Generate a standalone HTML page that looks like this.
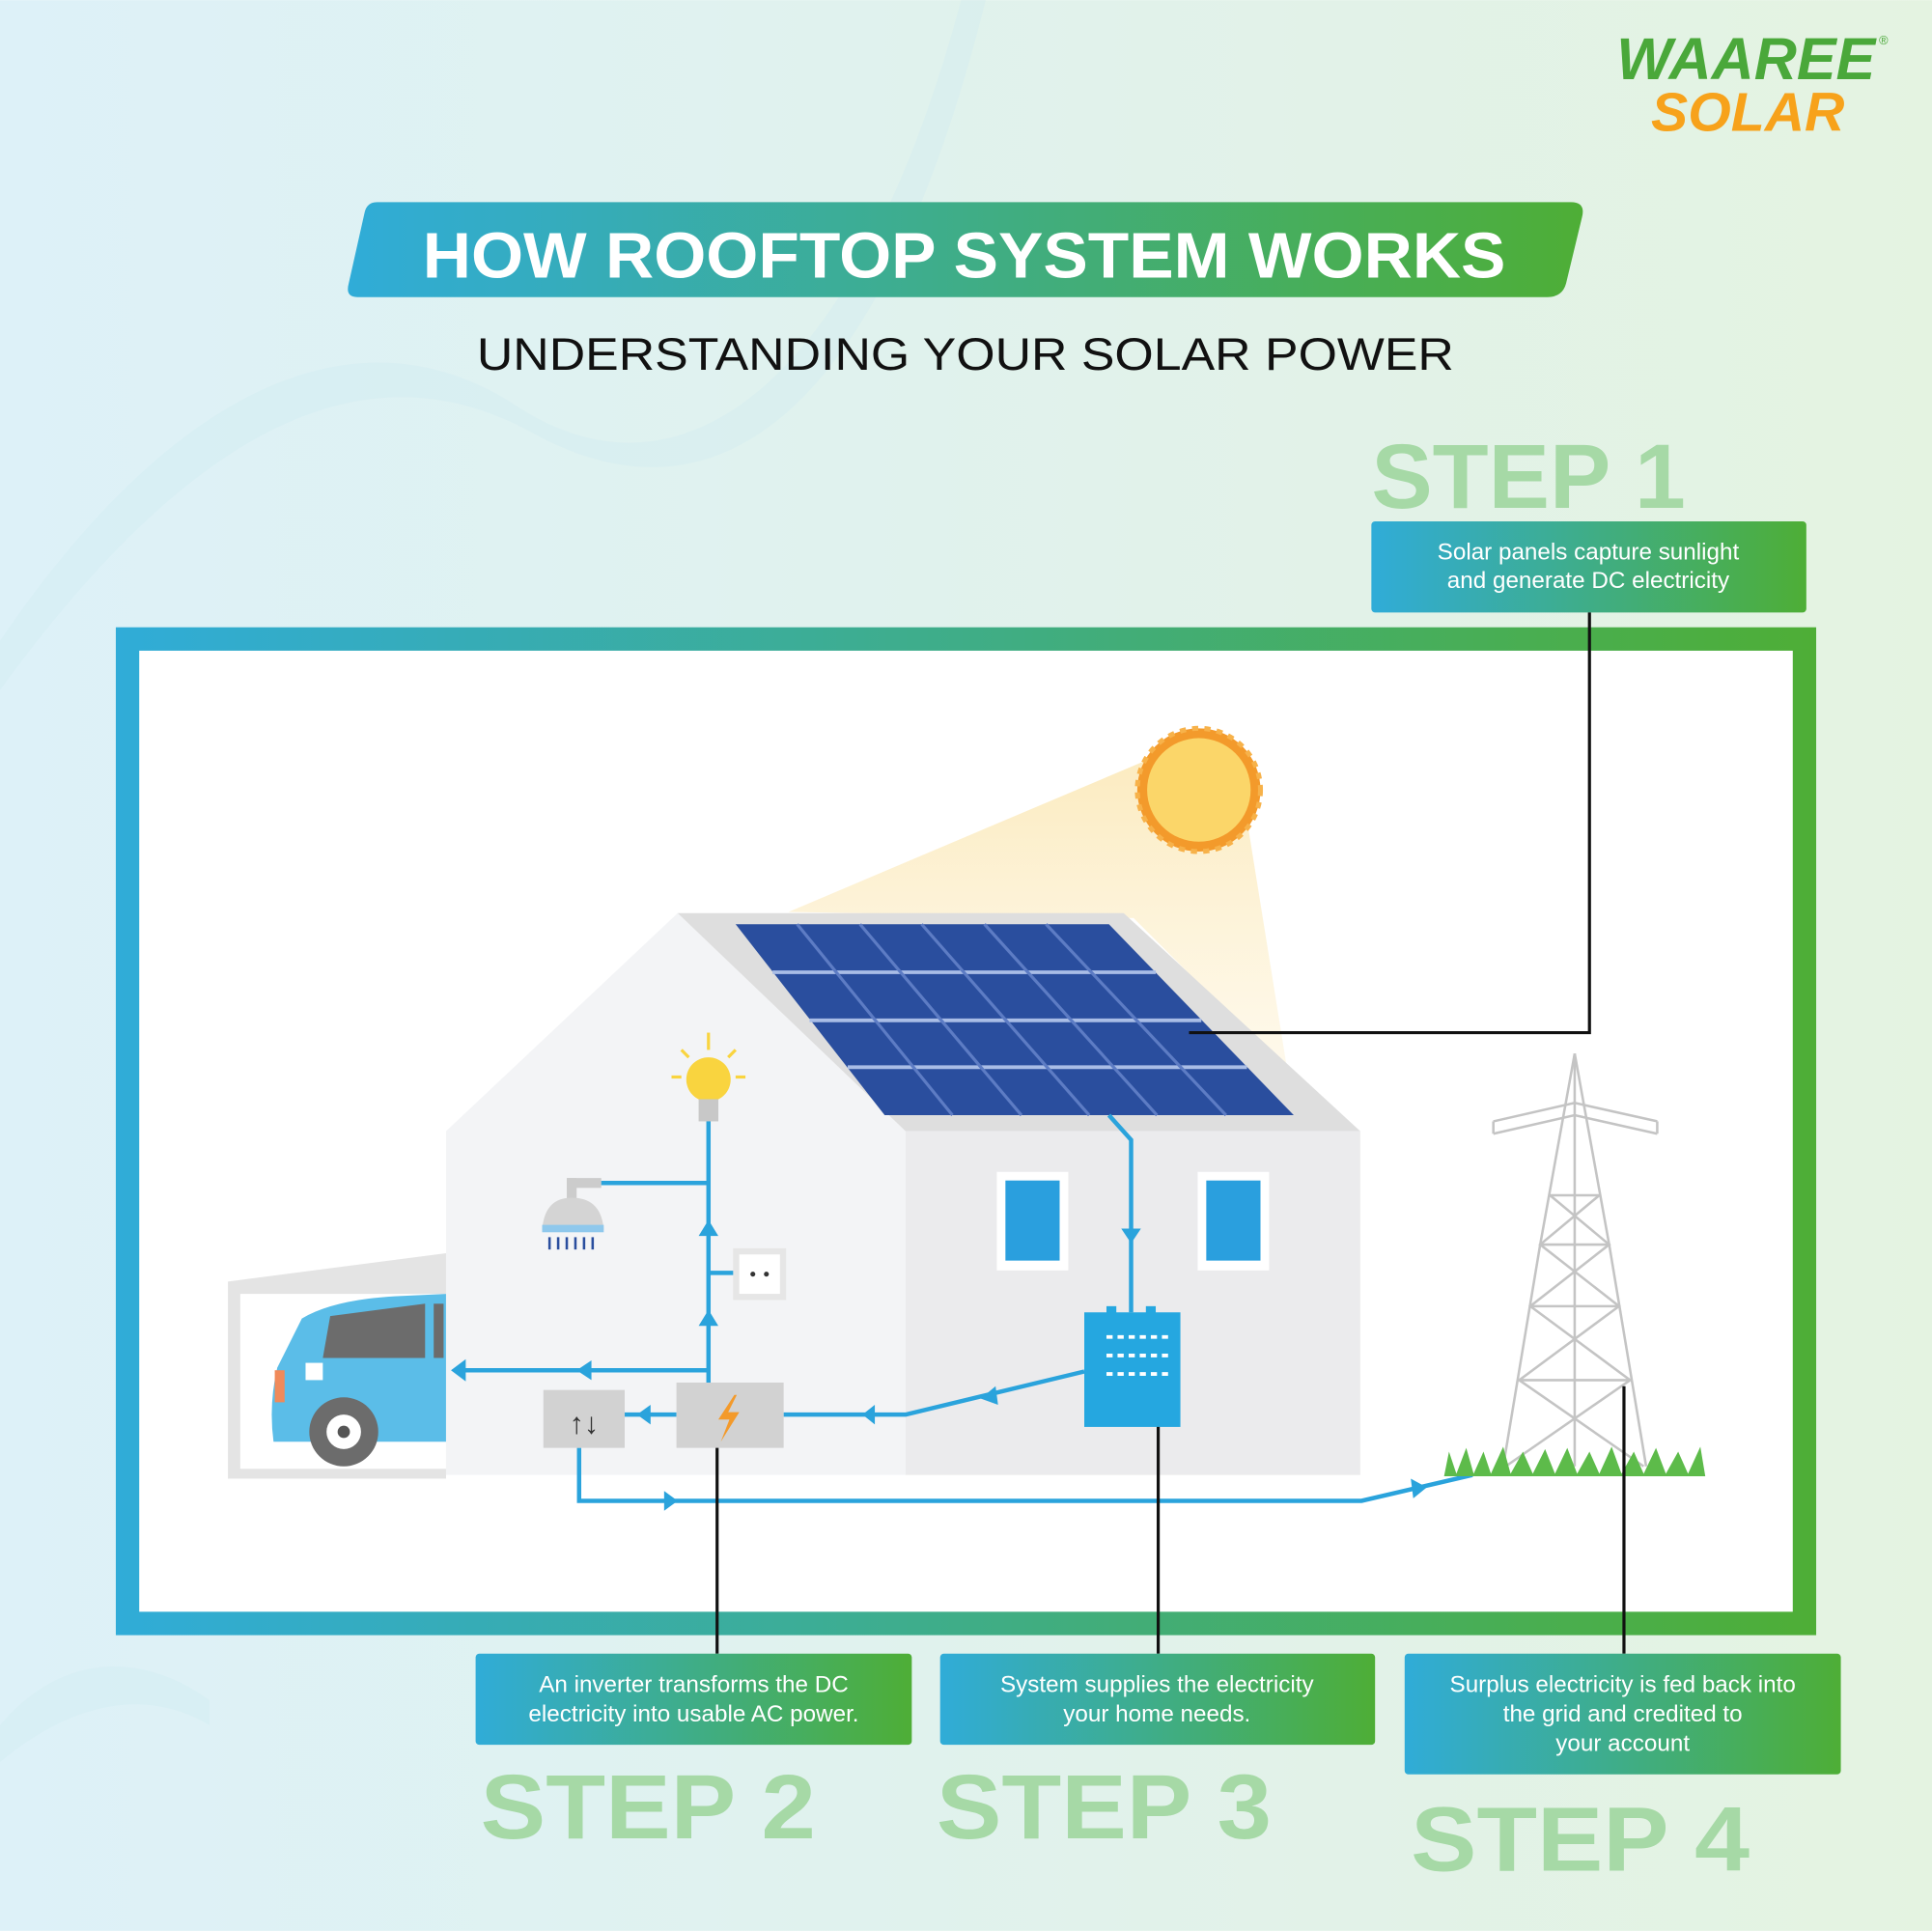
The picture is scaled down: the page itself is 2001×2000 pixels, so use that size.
<!DOCTYPE html>
<html><head><meta charset="utf-8"><style>
html,body{margin:0;padding:0;width:2001px;height:2000px;overflow:hidden}
svg{display:block}
text{font-family:"Liberation Sans",sans-serif}
</style></head><body>
<svg width="2001" height="2000" viewBox="0 0 1568 1567" xmlns="http://www.w3.org/2000/svg">
<defs>
<linearGradient id="bg" x1="0" y1="0" x2="1" y2="0"><stop offset="0" stop-color="#ddf1f8"/><stop offset="1" stop-color="#e4f3e1"/></linearGradient>
<linearGradient id="g" x1="0" y1="0" x2="1" y2="0"><stop offset="0" stop-color="#30acd8"/><stop offset="1" stop-color="#4eae36"/></linearGradient>
<linearGradient id="beam" x1="0" y1="0" x2="0" y2="1"><stop offset="0" stop-color="#fbe6b0" stop-opacity=".8"/><stop offset="1" stop-color="#fdf3d8" stop-opacity=".5"/></linearGradient>
</defs>
<rect width="1568" height="1567" fill="url(#bg)"/>
<path d="M0 520 C150 300 300 250 420 330 C560 420 700 300 780 0 L800 0 C720 320 590 440 430 350 C300 280 160 340 0 560 Z" fill="#cfeaf0" opacity=".35"/>
<path d="M0 1400 C60 1330 130 1350 170 1380 L170 1400 C120 1370 60 1380 0 1430Z" fill="#cfeaf0" opacity=".35"/>
<!-- logo -->
<text x="1312" y="64" font-size="48" font-weight="bold" font-style="italic" fill="#4aa83a" textLength="210" lengthAdjust="spacingAndGlyphs">WAAREE</text>
<text x="1525" y="36" font-size="10" fill="#4aa83a">®</text>
<text x="1340" y="106" font-size="44" font-weight="bold" font-style="italic" fill="#f7a21b" textLength="157" lengthAdjust="spacingAndGlyphs">SOLAR</text>
<!-- title -->
<path d="M300 164 H1275 Q1287 164 1284 176 L1271 230 Q1268 241 1256 241 H290 Q280 241 283 230 L296 172 Q298 164 306 164Z" fill="url(#g)"/>
<text x="343" y="225" font-size="52" font-weight="bold" fill="#fff" textLength="879" lengthAdjust="spacingAndGlyphs">HOW ROOFTOP SYSTEM WORKS</text>
<text x="387" y="300" font-size="37" fill="#111" textLength="793" lengthAdjust="spacingAndGlyphs">UNDERSTANDING YOUR SOLAR POWER</text>
<!-- step 1 -->
<text x="1113" y="412" font-size="74" font-weight="bold" fill="#a6d9a6" textLength="255" lengthAdjust="spacingAndGlyphs">STEP 1</text>
<rect x="1113" y="423" width="353" height="74" rx="3" fill="url(#g)"/>
<text x="1289" y="454" font-size="19" fill="#fff" text-anchor="middle">Solar panels capture sunlight</text>
<text x="1289" y="477" font-size="19" fill="#fff" text-anchor="middle">and generate DC electricity</text>
<!-- frame -->
<rect x="94" y="509" width="1380" height="818" fill="url(#g)"/>
<rect x="113" y="528" width="1342" height="780" fill="#fff"/>
<!-- beam -->
<polygon points="935,615 640,740 920,745 1045,870 1012,665" fill="url(#beam)"/>
<!-- sun -->
<circle cx="973" cy="641" r="50" fill="#f39a2b" stroke="#f7b24a" stroke-width="4" stroke-dasharray="5 5"/>
<circle cx="973" cy="641" r="42" fill="#fbd669"/>
<!-- garage -->
<polygon points="185,1040 362,1017 362,1200 185,1200" fill="#e4e4e4"/>
<rect x="195" y="1050" width="167" height="142" fill="#fff"/>
<path d="M362 1050 L320 1052 Q270 1055 245 1070 L225 1110 Q218 1140 222 1170 L362 1170Z" fill="#5bbde8"/>
<path d="M268 1068 L345 1058 L345 1102 L262 1102Z" fill="#6c6c6c"/>
<rect x="352" y="1058" width="8" height="44" fill="#6c6c6c"/>
<rect x="248" y="1106" width="14" height="14" fill="#fff"/>
<rect x="223" y="1112" width="8" height="26" fill="#f08a5a"/>
<circle cx="279" cy="1162" r="28" fill="#6c6c6c"/><circle cx="279" cy="1162" r="14" fill="#fff"/><circle cx="279" cy="1162" r="5" fill="#555"/>
<!-- house -->
<polygon points="362,918 550,741 735,918 735,1197 362,1197" fill="#f3f4f6"/>
<polygon points="550,741 912,741 1104,918 735,918" fill="#dedede"/>
<rect x="735" y="918" width="369" height="279" fill="#ebebed"/>
<!-- panels -->
<polygon points="597,750 900,750 1050,905 718,905" fill="#2a4e9e"/>
<g stroke="#a9bde6" stroke-width="3">
<line x1="627" y1="789" x2="938" y2="789"/><line x1="657" y1="828" x2="975" y2="828"/><line x1="688" y1="866" x2="1012" y2="866"/>
</g>
<g stroke="#5d7cc4" stroke-width="2.5">
<line x1="647" y1="750" x2="773" y2="905"/><line x1="698" y1="750" x2="829" y2="905"/><line x1="748" y1="750" x2="884" y2="905"/><line x1="799" y1="750" x2="939" y2="905"/><line x1="849" y1="750" x2="995" y2="905"/>
</g>
<!-- windows -->
<rect x="809" y="951" width="58" height="80" fill="#fff"/><rect x="816" y="958" width="44" height="65" fill="#2a9fde"/>
<rect x="972" y="951" width="58" height="80" fill="#fff"/><rect x="979" y="958" width="44" height="65" fill="#2a9fde"/>
<!-- wires -->
<g stroke="#2aa3dc" stroke-width="3.5" fill="none">
<polyline points="900,905 918,925 918,1065"/>
<polyline points="880,1113 735,1148 636,1148"/>
<line x1="575" y1="1122" x2="575" y2="905"/>
<line x1="575" y1="960" x2="487" y2="960"/>
<line x1="575" y1="1033" x2="597" y2="1033"/>
<line x1="575" y1="1112" x2="370" y2="1112"/>
<line x1="549" y1="1148" x2="507" y2="1148"/>
<polyline points="470,1175 470,1218 1105,1218 1195,1197"/>
</g>
<g fill="#2aa3dc">
<polygon points="910,997 926,997 918,1009"/>
<polygon points="808,1125 796,1135 810,1140"/>
<polygon points="700,1148 710,1140 710,1156"/>
<polygon points="575,990 567,1003 583,1003"/>
<polygon points="575,1063 567,1076 583,1076"/>
<polygon points="468,1112 480,1104 480,1120"/>
<polygon points="366,1112 378,1103 378,1121"/>
<polygon points="517,1148 528,1140 528,1156"/>
<polygon points="550,1218 539,1210 539,1226"/>
<polygon points="1158,1207 1145,1200 1147,1216"/>
</g>
<!-- bulb, shower, socket -->
<circle cx="575" cy="876" r="18" fill="#f9d43f"/><rect x="567" y="892" width="16" height="18" fill="#c8c8c8"/>
<g stroke="#f9d43f" stroke-width="2.5"><line x1="575" y1="838" x2="575" y2="852"/><line x1="545" y1="874" x2="553" y2="874"/><line x1="597" y1="874" x2="605" y2="874"/><line x1="553" y1="852" x2="559" y2="858"/><line x1="597" y1="852" x2="591" y2="858"/></g>
<rect x="460" y="956" width="28" height="8" fill="#ccc"/><rect x="460" y="956" width="8" height="20" fill="#ccc"/>
<path d="M440 998 Q442 972 464 972 Q488 972 490 998Z" fill="#d4d4d4"/><rect x="440" y="994" width="50" height="6" fill="#8fc8ec"/>
<g stroke="#2a4e9e" stroke-width="2"><line x1="446" y1="1004" x2="446" y2="1014"/><line x1="453" y1="1004" x2="453" y2="1014"/><line x1="460" y1="1004" x2="460" y2="1014"/><line x1="467" y1="1004" x2="467" y2="1014"/><line x1="474" y1="1004" x2="474" y2="1014"/><line x1="481" y1="1004" x2="481" y2="1014"/></g>
<rect x="595" y="1013" width="43" height="42" fill="#e6e6e6"/><rect x="600" y="1018" width="33" height="32" fill="#fff"/>
<circle cx="611" cy="1034" r="2" fill="#333"/><circle cx="622" cy="1034" r="2" fill="#333"/>
<!-- meter & inverter -->
<rect x="441" y="1128" width="66" height="47" fill="#d2d2d2"/>
<text x="474" y="1163" font-size="24" font-weight="bold" fill="#333" text-anchor="middle">↑↓</text>
<rect x="549" y="1122" width="87" height="53" fill="#d2d2d2"/>
<polygon points="596,1132 583,1152 592,1152 585,1170 600,1146 591,1146 598,1132" fill="#f39a2b"/>
<!-- inverter box -->
<rect x="880" y="1065" width="78" height="93" fill="#25a7e0"/>
<rect x="898" y="1060" width="8" height="6" fill="#25a7e0"/><rect x="930" y="1060" width="8" height="6" fill="#25a7e0"/>
<g stroke="#fff" stroke-width="3" stroke-dasharray="5 4"><line x1="898" y1="1085" x2="948" y2="1085"/><line x1="898" y1="1100" x2="948" y2="1100"/><line x1="898" y1="1115" x2="948" y2="1115"/></g>
<!-- tower -->
<g stroke="#c4c4c4" stroke-width="2" fill="none">
<polyline points="1278,855 1250,1010 1220,1190"/><polyline points="1278,855 1306,1010 1336,1190"/>
<line x1="1278" y1="855" x2="1278" y2="1190"/>
<polyline points="1212,910 1278,895 1345,910"/><polyline points="1212,920 1278,905 1345,920"/>
<line x1="1212" y1="910" x2="1212" y2="920"/><line x1="1345" y1="910" x2="1345" y2="920"/>
<line x1="1258" y1="970" x2="1298" y2="970"/><line x1="1250" y1="1010" x2="1306" y2="1010"/><line x1="1242" y1="1060" x2="1314" y2="1060"/><line x1="1233" y1="1120" x2="1323" y2="1120"/>
<polyline points="1258,970 1306,1010 1242,1060 1323,1120 1222,1190"/><polyline points="1298,970 1250,1010 1314,1060 1233,1120 1334,1190"/>
</g>
<path d="M1172 1198 L1176 1178 L1182 1196 L1190 1175 L1196 1196 L1204 1178 L1210 1196 L1220 1174 L1226 1196 L1236 1178 L1244 1196 L1254 1176 L1262 1196 L1272 1175 L1280 1196 L1290 1178 L1298 1196 L1308 1174 L1316 1196 L1326 1178 L1334 1196 L1344 1175 L1352 1196 L1362 1178 L1370 1196 L1380 1174 L1384 1198Z" fill="#5dbb4a"/>
<!-- connectors -->
<g stroke="#111" stroke-width="2.5" fill="none">
<polyline points="1290,497 1290,838 965,838"/>
<line x1="582" y1="1175" x2="582" y2="1342"/>
<line x1="940" y1="1158" x2="940" y2="1342"/>
<line x1="1318" y1="1125" x2="1318" y2="1342"/>
</g>
<!-- steps bottom -->
<rect x="386" y="1342" width="354" height="74" rx="3" fill="url(#g)"/>
<text x="563" y="1373" font-size="19" fill="#fff" text-anchor="middle">An inverter transforms the DC</text>
<text x="563" y="1397" font-size="19" fill="#fff" text-anchor="middle">electricity into usable AC power.</text>
<rect x="763" y="1342" width="353" height="74" rx="3" fill="url(#g)"/>
<text x="939" y="1373" font-size="19" fill="#fff" text-anchor="middle">System supplies the electricity</text>
<text x="939" y="1397" font-size="19" fill="#fff" text-anchor="middle">your home needs.</text>
<rect x="1140" y="1342" width="354" height="98" rx="3" fill="url(#g)"/>
<text x="1317" y="1373" font-size="19" fill="#fff" text-anchor="middle">Surplus electricity is fed back into</text>
<text x="1317" y="1397" font-size="19" fill="#fff" text-anchor="middle">the grid and credited to</text>
<text x="1317" y="1421" font-size="19" fill="#fff" text-anchor="middle">your account</text>
<text x="390" y="1492" font-size="74" font-weight="bold" fill="#a6d9a6" textLength="272" lengthAdjust="spacingAndGlyphs">STEP 2</text>
<text x="760" y="1492" font-size="74" font-weight="bold" fill="#a6d9a6" textLength="272" lengthAdjust="spacingAndGlyphs">STEP 3</text>
<text x="1145" y="1518" font-size="74" font-weight="bold" fill="#a6d9a6" textLength="275" lengthAdjust="spacingAndGlyphs">STEP 4</text>
</svg>
</body></html>
